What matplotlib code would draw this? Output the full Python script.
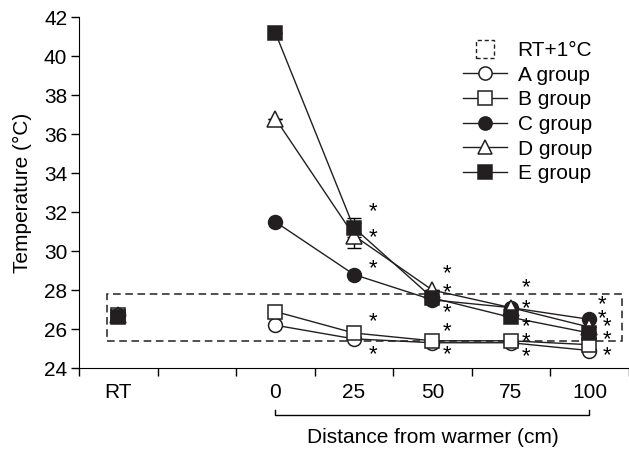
import matplotlib
matplotlib.use("Agg")
import matplotlib.pyplot as plt
from matplotlib.lines import Line2D
from matplotlib.patches import Rectangle
from matplotlib.legend_handler import HandlerPatch
from matplotlib.font_manager import FontProperties

plt.rcParams['font.family'] = ['Liberation Sans', 'DejaVu Sans']

# data
distances = ["0", "25", "50", "75", "100"]
rt_label = "RT"
rt_values = [26.7, 26.7, 26.7, 26.7, 26.6]
group_a = [26.2, 25.5, 25.3, 25.3, 24.9]
group_b = [26.9, 25.8, 25.4, 25.4, 25.2]
group_c = [31.5, 28.8, 27.5, 27.1, 26.5]
group_d = [36.8, 30.8, 28.0, 27.1, 26.1]
group_e = [41.2, 31.2, 27.6, 26.6, 25.8]
err_d = [0, 0.65, 0, 0, 0]
err_e = [0, 0.5, 0, 0, 0]
band = (25.4, 27.8)
# stars per column, close pairs kept together
stars = {
    "25": [[32.2], [30.9], [29.3], [26.6], [24.9]],
    "50": [[28.9, 28.2], [26.9, 26.2], [24.9]],
    "75": [[28.2, 27.4], [26.2, 25.7], [24.8]],
    "100": [[27.3, 26.85], [26.2, 25.8], [24.85]],
}

xpos = [2.5, 3.5, 4.5, 5.5, 6.5]
rt_x = 0.5
FS = 15
INK = '#231f20'

fig = plt.figure(figsize=(6.29, 4.5), dpi=100)
ax = fig.add_axes([0.1256, 0.182, 0.874, 0.78])

styles = [
    ("A group", group_a, 'o', 'white', None),
    ("B group", group_b, 's', 'white', None),
    ("C group", group_c, 'o', INK, None),
    ("D group", group_d, '^', 'white', err_d),
    ("E group", group_e, 's', INK, err_e),
]

handles = []
for i, (name, vals, mk, fc, err) in enumerate(styles):
    ms = 11 if mk == '^' else 10
    if err is not None:
        ax.errorbar(xpos, vals, yerr=err, fmt='none', ecolor='black',
                    elinewidth=1, capsize=5, zorder=2)
    ax.plot(xpos, vals, color=INK, lw=1, marker=mk, ms=ms,
            mfc=fc, mec=INK, mew=1.1, zorder=3)
    ax.plot([rt_x], [rt_values[i]], marker=mk, ms=ms, mfc=fc, mec=INK,
            mew=1.1, zorder=3)
    handles.append(Line2D([], [], color=INK, lw=1, marker=mk, ms=ms - 0.5,
                          mfc=fc, mec=INK, mew=1.1, label=name))

# RT + 1 C band
ax.add_patch(Rectangle((0.36, band[0]), 6.55, band[1] - band[0], fill=False,
                       ls=(0, (5, 3)), lw=1.1, ec=INK, zorder=1))

ax.set_xlim(0, 7)
ax.set_ylim(24, 42)

# significance stars (a close pair is one two-line text)
renderer = fig.canvas.get_renderer()
star_fs = 16
_, lp_h, lp_d = renderer.get_text_width_height_descent(
    "lp", FontProperties(family='Liberation Sans', size=star_fs), ismath=False)
px_per_unit = ax.transData.transform((0, 1))[1] - ax.transData.transform((0, 0))[1]
star_x = {"25": 3.74, "50": 4.69, "75": 5.69, "100": 6.66}
for k, grp in stars.items():
    for j, ys in enumerate(grp):
        sx = star_x[k] + (0.06 if k == "100" and j >= 1 else 0)
        yc = sum(ys) / len(ys) - 0.2
        if len(ys) == 1:
            ax.text(sx, yc, "*", ha='center', va='center', fontsize=star_fs)
        else:
            ls = (ys[0] - ys[1]) * px_per_unit / (lp_h - lp_d)
            ax.text(sx, yc, "*\n*", ha='center', va='center', fontsize=star_fs,
                    linespacing=ls, multialignment='center')

ax.set_yticks(range(24, 43, 2))
ax.set_xticks(range(0, 8))
ax.set_xticklabels([])
ax.set_xticks([rt_x] + xpos, minor=True)
ax.set_xticklabels([rt_label] + distances, minor=True)
ax.tick_params(axis='x', which='minor', length=0, pad=11, labelsize=FS)
ax.tick_params(axis='x', which='major', direction='out', length=5.5, width=1)
ax.tick_params(axis='y', direction='out', length=5.5, width=1, labelsize=FS, pad=3)
ax.spines['top'].set_visible(False)
ax.spines['right'].set_visible(False)
ax.set_ylabel("Temperature (°C)", fontsize=FS)
ax.yaxis.set_label_coords(-0.085, 0.5)

# bracket under distance labels
tr = ax.get_xaxis_transform()
ax.plot([xpos[0], xpos[0], xpos[-1], xpos[-1]], [-0.12, -0.134, -0.134, -0.12],
        transform=tr, color='black', lw=1, clip_on=False)
ax.text((xpos[0] + xpos[-1]) / 2, -0.197, "Distance from warmer (cm)",
        transform=tr, ha='center', va='center', fontsize=FS)


class SquareHandler(HandlerPatch):
    def create_artists(self, legend, orig_handle, xdescent, ydescent,
                       width, height, fontsize, trans):
        s = height * 1.25
        p = Rectangle((width / 2 - s / 2 - xdescent, height / 2 - s / 2 - ydescent),
                      s, s, fill=False, ls=(0, (3, 2)), lw=1, ec=INK)
        p.set_transform(trans)
        return [p]


band_handle = Rectangle((0, 0), 1, 1, fill=False, label="RT+1°C")
leg = ax.legend([band_handle] + handles, ["RT+1°C"] + [h.get_label() for h in handles],
                handler_map={Rectangle: SquareHandler()},
                loc='upper left', bbox_to_anchor=(0.665, 0.985), frameon=False,
                fontsize=FS, handlelength=2.1, handletextpad=0.5,
                labelspacing=0.27)

fig.savefig("out.png", dpi=100)
